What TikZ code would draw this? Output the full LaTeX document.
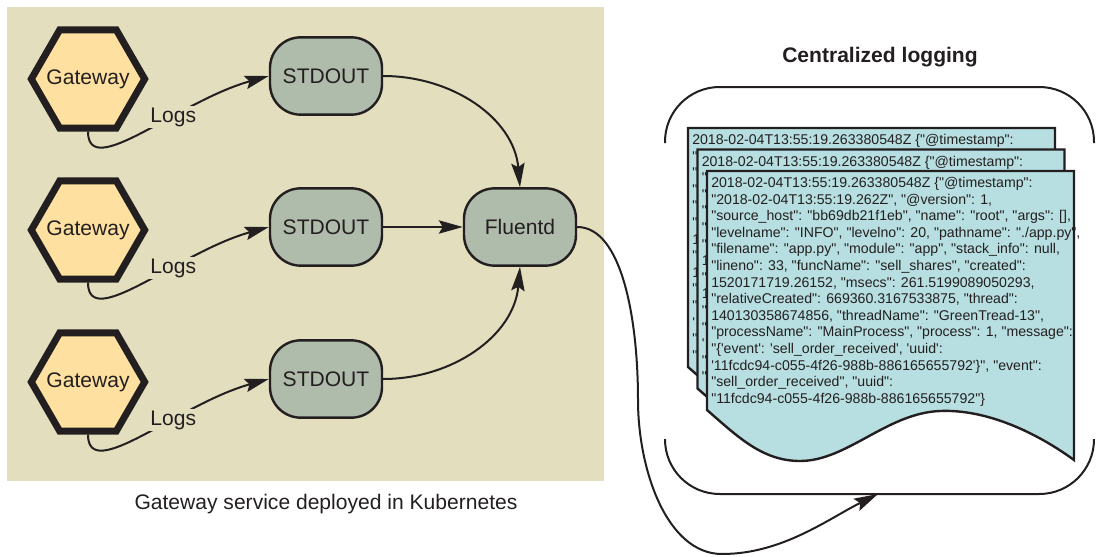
\documentclass[tikz,border=0pt]{standalone}
\usepackage{fontspec}
\setmainfont{Liberation Sans}
\newfontfamily\logfont{Liberation Sans}[Ligatures=TeXOff]
\usetikzlibrary{shapes.geometric,arrows.meta}

\definecolor{kubebg}{HTML}{E3DFBE}
\definecolor{gwfill}{HTML}{FEE0A0}
\definecolor{pipefill}{HTML}{AFBBAB}
\definecolor{docfill}{HTML}{B7DEE0}
\definecolor{ink}{HTML}{231F20}

\newcommand{\loghead}{2018-02-04T13:55:19.263380548Z \{"@timestamp":}
\newcommand{\logentry}{%
\loghead\\
"2018-02-04T13:55:19.262Z", "@version": 1,\\
"source\_host": "bb69db21f1eb", "name": "root", "args": [],\\
"levelname": "INFO", "levelno": 20, "pathname": "./app.py",\\
"filename": "app.py", "module": "app", "stack\_info": null,\\
"lineno": 33, "funcName": "sell\_shares", "created":\\
1520171719.26152, "msecs": 261.5199089050293,\\
"relativeCreated": 669360.3167533875, "thread":\\
140130358674856, "threadName": "GreenTread-13",\\
"processName": "MainProcess", "process": 1, "message":\\
"\{'event': 'sell\_order\_received', 'uuid':\\
'11fcdc94-c055-4f26-988b-886165655792'\}", "event":\\
"sell\_order\_received", "uuid":\\
"11fcdc94-c055-4f26-988b-886165655792"\}}
% what shows of an entry that lies behind another one
\newcommand{\logedge}{%
\loghead\\ "\\ "\\ "\\ "\\ "\\ 1\\ "\\ 1\\ "\\ "\\ '\\ "\\ "}

\begin{document}
\begin{tikzpicture}[x=0.75pt,y=-0.75pt,
  every node/.style={font=\fontsize{15.8}{19}\selectfont, text=ink},
  gateway/.style={regular polygon, regular polygon sides=6,
    minimum size=85pt, inner sep=0pt, draw=ink, line width=5.2pt, fill=gwfill},
  pipe/.style={rectangle, rounded corners=23pt, minimum width=84pt, minimum height=58pt,
    draw=ink, line width=1.8pt, fill=pipefill},
  flow/.style={draw=ink, line width=1.5pt, -{Stealth[length=18pt,width=10pt,inset=3pt]}},
  lbl/.style={fill=kubebg, inner sep=1pt},
  doc/.style={draw=ink, line width=1.8pt, fill=docfill}]
\useasboundingbox (0,0) rectangle (1097,557);
\fill[kubebg] (7,7) rectangle (604,481);

% gateway pods and their stdout
\foreach \i/\y in {1/79,2/230,3/382} {
  \node[gateway] (gw\i) at (88,\y) {\makebox[0pt]{Gateway}};
  \node[pipe] (so\i) at (326,\y-3) {STDOUT};
}
\node[pipe] (fl) at (520,227) {Fluentd};

\foreach \i in {1,2,3}
  \draw[flow] (gw\i.south) .. controls +(0,50) and +(-90,25) .. node[lbl,pos=0.63] {Logs} (so\i.west);
\draw[flow] (so1.east) .. controls +(69,0) and +(-6,-69) .. (fl.north);
\draw[flow] (so2) -- (fl);
\draw[flow] (so3.east) .. controls +(69,0) and +(-6,69) .. (fl.south);

\node (kubecap) at (326,504) {Gateway service deployed in Kubernetes};
\node[font=\bfseries\fontsize{15.8}{19}\selectfont] (logcap) at (880,57) {Centralized logging};

% log store outline
\draw[ink, line width=1.5pt, rounded corners=41pt] (665,143) -- (665,87) -- (1094,87) -- (1094,143);
\draw[ink, line width=1.5pt, rounded corners=41pt] (665,439) -- (665,494) -- (1094,494) -- (1094,439);
\coordinate (storein) at (878,494);

% stacked log entries
\foreach \dx/\dy [count=\i] in {0/0,9.5/21.5,19/43} {
  \begin{scope}[shift={(688+\dx,128+\dy)}]
    \draw[doc] (0,0) -- (367,0) -- (367,289) .. controls (330,262) and (280,238) .. (233,240)
      .. controls (180,242) and (140,290) .. (93,290) .. controls (55,290) and (30,265) .. (0,239) -- cycle;
    \ifnum\i<3
      \node[anchor=north west, inner sep=0pt, align=left,
        font=\logfont\fontsize{10.6}{12.45}\selectfont] (entry\i) at (4,6) {\logedge};
    \else
      \node[anchor=north west, inner sep=0pt, align=left,
        font=\logfont\fontsize{10.6}{12.45}\selectfont] (entry\i) at (4,6) {\logentry};
    \fi
  \end{scope}
}

\draw[flow] (fl.east) .. controls +(45,0) and +(0,-80) .. (638,400)
  .. controls +(0,70) and +(-55,0) .. (722,554)
  .. controls +(60,0) and +(-50,25) .. (storein);
\end{tikzpicture}
\end{document}
